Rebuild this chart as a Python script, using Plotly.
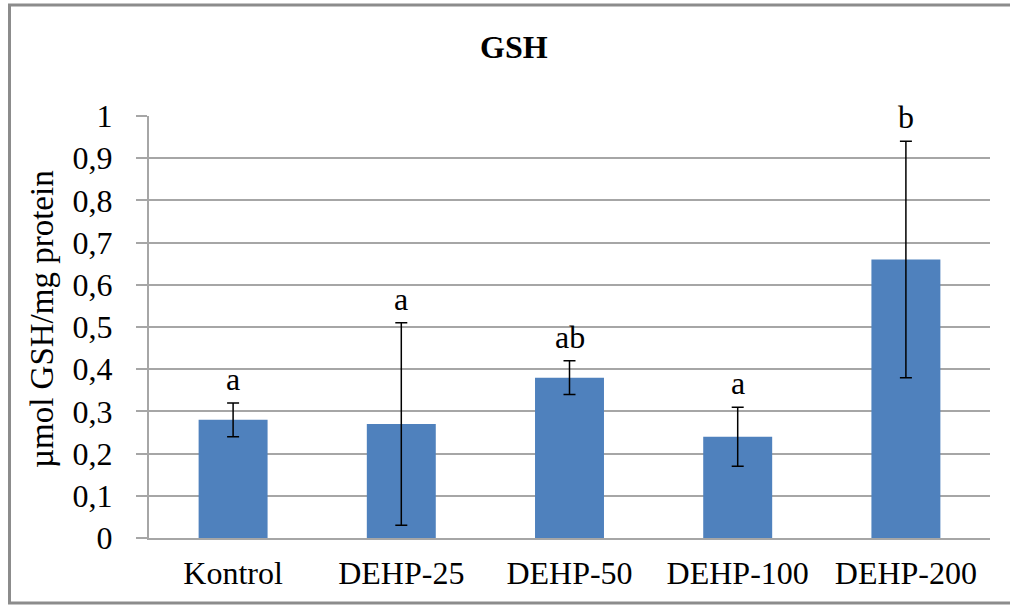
import plotly.graph_objects as go

# GSH levels per group (mean and error), with significance letters
groups = ["Kontrol", "DEHP-25", "DEHP-50", "DEHP-100", "DEHP-200"]
gsh_mean = [0.28, 0.27, 0.38, 0.24, 0.66]
gsh_err = [0.04, 0.24, 0.04, 0.07, 0.28]
sig_letters = ["a", "a", "ab", "a", "b"]

y_tick_vals = [0, 0.1, 0.2, 0.3, 0.4, 0.5, 0.6, 0.7, 0.8, 0.9, 1.0]
y_tick_text = ["0", "0,1", "0,2", "0,3", "0,4", "0,5", "0,6", "0,7", "0,8", "0,9", "1"]

FONT = "Liberation Serif"
BAR_BLUE = "#4F81BD"
GRID = "#A6A6A6"

W, H = 1014, 613
L, R, T, B = 149, 24, 116, 75
pw, ph = W - L - R, H - T - B


def px_x(x):
    return (x - L) / pw


def px_y(y):
    return (H - B - y) / ph


fig = go.Figure()
fig.add_trace(go.Bar(
    x=groups,
    y=gsh_mean,
    marker=dict(color=BAR_BLUE, line=dict(width=0)),
    error_y=dict(type="data", array=gsh_err, visible=True,
                 color="black", thickness=1.5, width=6),
    width=0.41,
    showlegend=False,
))

# significance letters just above each upper error whisker
for g, m, e, s in zip(groups, gsh_mean, gsh_err, sig_letters):
    fig.add_annotation(x=g, y=m + e, text=s, showarrow=False,
                       xref="x", yref="y", yanchor="bottom", yshift=4,
                       font=dict(family=FONT, size=32, color="black"))

# chart title
fig.add_annotation(x=px_x(514), y=px_y(47), xref="paper", yref="paper",
                   text="<b>GSH</b>", showarrow=False,
                   xanchor="center", yanchor="middle",
                   font=dict(family=FONT, size=32, color="black"))

# y-axis title
fig.add_annotation(x=px_x(42), y=px_y(319), xref="paper", yref="paper",
                   text="µmol GSH/mg protein", textangle=-90, showarrow=False,
                   xanchor="center", yanchor="middle",
                   font=dict(family=FONT, size=33, color="black"))

# chart-area frame drawn as one open path: top, left and bottom edges
fx0, fx1 = L - 139.5, L + 861
fy_top, fy_bot = 5, 603
frame_path = (f"M {fx1},{fy_top} L {fx0},{fy_top} "
              f"L {fx0},{fy_bot} L {fx1},{fy_bot}")
fig.add_shape(type="path", xref="paper", yref="paper", xsizemode="pixel",
              ysizemode="pixel", xanchor=0, yanchor=1,
              path=" ".join(
                  f"{c} {x - L},{T - y}" for c, x, y in [
                      ("M", fx1, fy_top), ("L", fx0, fy_top),
                      ("L", fx0, fy_bot), ("L", fx1, fy_bot)]),
              line=dict(color="#8C8C8C", width=3), fillcolor="rgba(0,0,0,0)",
              layer="below")

fig.update_layout(
    width=W, height=H,
    margin=dict(l=L, r=R, t=T, b=B, pad=0),
    paper_bgcolor="white",
    plot_bgcolor="white",
    font=dict(family=FONT, size=32, color="black"),
    bargap=0.59,
    xaxis=dict(
        showline=True, linecolor=GRID, linewidth=2,
        ticks="", showgrid=False,
        tickfont=dict(family=FONT, size=32, color="black"),
        ticklabelstandoff=6,
    ),
    yaxis=dict(
        range=[0, 1.0],
        tickvals=y_tick_vals, ticktext=y_tick_text,
        showgrid=True, gridcolor=GRID, gridwidth=2,
        showline=True, linecolor=GRID, linewidth=2,
        ticks="outside", ticklen=11, tickcolor=GRID, tickwidth=2,
        tickfont=dict(family=FONT, size=32, color="black"),
        ticklabelstandoff=17,
        zeroline=False,
    ),
)

fig.write_html("out.html")
